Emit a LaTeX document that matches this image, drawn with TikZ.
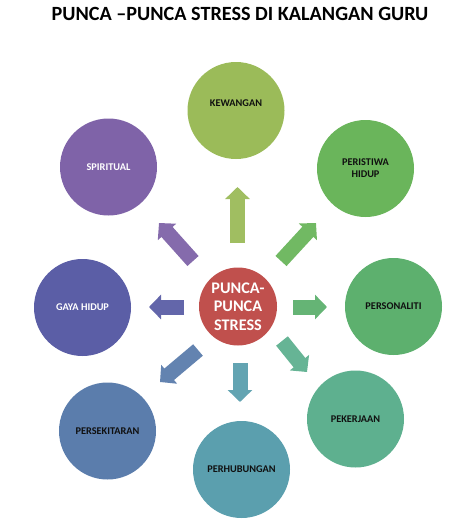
\documentclass[tikz,border=0pt]{standalone}
\usepackage{fontspec}
\setmainfont{Carlito}
\usetikzlibrary{arrows.meta,calc}
\definecolor{cKew}{HTML}{9BBB59}
\definecolor{cPer}{HTML}{6AB55B}
\definecolor{cPers}{HTML}{5DB06E}
\definecolor{cPek}{HTML}{5EB08F}
\definecolor{cHub}{HTML}{5B9FAE}
\definecolor{cSek}{HTML}{5B7DAC}
\definecolor{cGaya}{HTML}{5B5EA6}
\definecolor{cSpi}{HTML}{7F63A8}
\definecolor{cMid}{HTML}{C0504D}
\definecolor{txtdark}{HTML}{101010}
\begin{document}
\begin{tikzpicture}[x=1pt,y=-1pt,
  outer/.style={circle,minimum size=97pt,inner sep=0pt,align=center,
    font=\fontsize{10.3}{12}\selectfont\bfseries,text=txtdark},
  blockarrow/.style={line width=15pt,-{Triangle[length=12pt,width=24pt]}},
]
\useasboundingbox (0,0) rectangle (474,523);
\node[font=\fontsize{20.2}{22}\selectfont\bfseries] (title) at (240,14) {PUNCA --PUNCA STRESS DI KALANGAN GURU};

\node[circle,minimum size=78pt,inner sep=0pt,fill=cMid,text=white,align=center,
  font=\fontsize{16.2}{18.5}\selectfont\bfseries] (mid) at (238,306.5) {PUNCA-\\PUNCA\\STRESS};

\node[outer,fill=cKew] (kew) at (236,110.5) {};
\node[font=\fontsize{10.3}{12}\selectfont\bfseries,text=txtdark] (kewt) at (236,103) {KEWANGAN};
\node[outer,fill=cPer] (per) at (365.5,168.5) {PERISTIWA\\HIDUP};
\node[outer,fill=cPers] (pers) at (393.5,306.5) {PERSONALITI};
\node[outer,fill=cPek] (pek) at (355.5,419) {PEKERJAAN};
\node[outer,fill=cHub] (hub) at (241.5,469.5) {PERHUBUNGAN};
\node[outer,fill=cSek] (sek) at (107.5,431) {PERSEKITARAN};
\node[outer,fill=cGaya,text=white] (gaya) at (82.5,307.5) {GAYA HIDUP};
\node[outer,fill=cSpi,text=white] (spi) at (108.5,167) {SPIRITUAL};

% arrow anchor coordinates
\coordinate (a1s) at (237.5,243); \coordinate (a1e) at (237.5,187);
\coordinate (a2s) at (281,261);   \coordinate (a2e) at (316,223);
\coordinate (a3s) at (293,307);   \coordinate (a3e) at (327,307);
\coordinate (a4s) at (282,341);   \coordinate (a4e) at (307,372);
\coordinate (a5s) at (240,363);   \coordinate (a5e) at (240,402);
\coordinate (a6s) at (198,350);   \coordinate (a6e) at (160,382);
\coordinate (a7s) at (184,307);   \coordinate (a7e) at (149,307);
\coordinate (a8s) at (193,261);   \coordinate (a8e) at (159,223);

\draw[blockarrow,draw=cKew!95!white] (a1s) -- (a1e);
\draw[blockarrow,draw=cPer!95!white] (a2s) -- (a2e);
\draw[blockarrow,draw=cPers!95!white] (a3s) -- (a3e);
\draw[blockarrow,draw=cPek!95!white] (a4s) -- (a4e);
\draw[blockarrow,draw=cHub!95!white] (a5s) -- (a5e);
\draw[blockarrow,draw=cSek!95!white] (a6s) -- (a6e);
\draw[blockarrow,draw=cGaya!95!white] (a7s) -- (a7e);
\draw[blockarrow,draw=cSpi!95!white] (a8s) -- (a8e);
\end{tikzpicture}
\end{document}
